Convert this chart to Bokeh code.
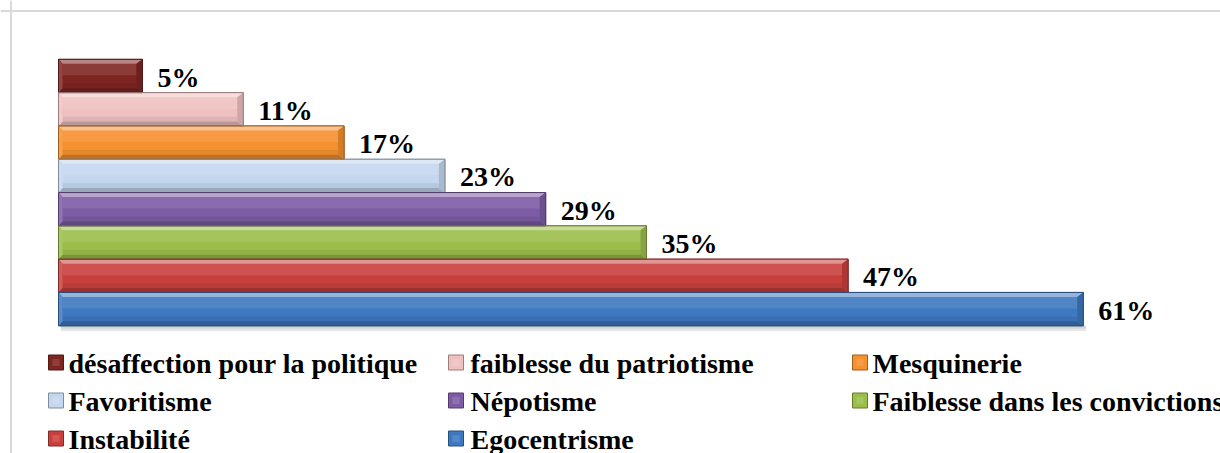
import numpy as np
from bokeh.plotting import figure
from bokeh.models import Range1d, Span, ColumnDataSource
from bokeh.core.properties import value
from bokeh.embed import file_html
from bokeh.resources import INLINE

# ---------------- data (top to bottom) ----------------
categories = [
    "désaffection pour la politique",
    "faiblesse du patriotisme",
    "Mesquinerie",
    "Favoritisme",
    "Népotisme",
    "Faiblesse dans les convictions",
    "Instabilité",
    "Egocentrisme",
]
values = [5, 11, 17, 23, 29, 35, 47, 61]
colors = ["#7E2522", "#EEC1C0", "#F5902F", "#C4D7EF",
          "#7D5CA5", "#9BBE4A", "#C8403D", "#3E78C0"]
labels = [f"{v}%" for v in values]

FONT = "Liberation Serif, Times New Roman, serif"

# ---------------- helpers ----------------
def hex2rgb(h):
    h = h.lstrip("#")
    return np.array([int(h[i:i + 2], 16) for i in (0, 2, 4)], dtype=float)

def rgb2hex(c):
    c = np.clip(np.round(c), 0, 255).astype(int)
    return "#%02x%02x%02x" % tuple(c)

def lighten(h, t):
    c = hex2rgb(h)
    return rgb2hex(c + (255 - c) * t)

def darken(h, t):
    return rgb2hex(hex2rgb(h) * (1 - t))

# ---------------- geometry / ranges ----------------
W, H = 1220, 453
px_per_pct = 16.8
zero_px = 58.0            # 0 % position from the frame's left edge
row_px = 33.3
bottom_center_px = 308.6  # centre of lowest bar from frame top

xs = -zero_px / px_per_pct
x_range = Range1d(xs, xs + W / px_per_pct)
y_range = Range1d(-(H - bottom_center_px) / row_px, bottom_center_px / row_px)

def sx(px):   # screen px -> x data
    return xs + px / px_per_pct

def sy(py):   # screen px (from top) -> y data
    return y_range.end - py / row_px

n = len(values)
ypos = [n - 1 - i for i in range(n)]
top = [y + 0.5 for y in ypos]
bot = [y - 0.5 for y in ypos]

p = figure(width=W, height=H, x_range=x_range, y_range=y_range,
           x_axis_type=None, y_axis_type=None,
           output_backend="svg", toolbar_location=None, min_border=0)
p.grid.visible = False
p.outline_line_color = None
p.background_fill_color = "white"
p.border_fill_color = "white"

# chart frame (light grey border at top and left)
p.add_layout(Span(location=sx(10.5), dimension="height",
                  line_color="#d9d9d9", line_width=2))
p.add_layout(Span(location=sy(10.5), dimension="width",
                  line_color="#d9d9d9", line_width=2))

# soft shadow under the lowest bar
p.quad(left=[0.15], right=[values[-1] + 0.15], bottom=[bot[-1] - 0.16],
       top=[bot[-1]], fill_color="#e6e6e6", line_color=None)
p.quad(left=[0.15], right=[values[-1] + 0.15], bottom=[bot[-1] - 0.09],
       top=[bot[-1]], fill_color="#d4d4d4", line_color=None)

# face of the bars
face_src = ColumnDataSource(dict(
    left=[0] * n, right=values, bottom=bot, top=top,
    fill=colors, line=[darken(c, 0.35) for c in colors], label=categories))
p.quad(left="left", right="right", bottom="bottom", top="top",
       fill_color="fill", line_color="line", line_width=1, source=face_src)

# bevel: inner gradient bands
d = 6 / px_per_pct     # right bevel width in x units
dl = 4 / px_per_pct    # left bevel width
b = 4.5 / row_px       # bevel height in y units

p.quad(left=[dl] * n, right=[v - d for v in values],
       bottom=[y + 0.02 for y in ypos], top=[t - b for t in top],
       fill_color=[lighten(c, 0.10) for c in colors], line_color=None)
p.quad(left=[dl] * n, right=[v - d for v in values],
       bottom=[bb + b for bb in bot], top=[y - 0.22 for y in ypos],
       fill_color=[darken(c, 0.07) for c in colors], line_color=None)

def poly(pts_fn):
    xs_, ys_ = [], []
    for v, t, bb in zip(values, top, bot):
        px, py = pts_fn(v, t, bb)
        xs_.append(px)
        ys_.append(py)
    return xs_, ys_

tx, ty = poly(lambda v, t, bb: ([0, v, v - d, dl], [t, t, t - b, t - b]))
p.patches(tx, ty, fill_color=[lighten(c, 0.45) for c in colors], line_color=None)
bx, by = poly(lambda v, t, bb: ([0, v, v - d, dl], [bb, bb, bb + b, bb + b]))
p.patches(bx, by, fill_color=[darken(c, 0.22) for c in colors], line_color=None)
rx, ry = poly(lambda v, t, bb: ([v, v, v - d, v - d], [t, bb, bb + b, t - b]))
p.patches(rx, ry, fill_color=[darken(c, 0.14) for c in colors], line_color=None)
lx, ly = poly(lambda v, t, bb: ([0, 0, dl, dl], [t, bb, bb + b, t - b]))
p.patches(lx, ly, fill_color=[lighten(c, 0.15) for c in colors], line_color=None)

p.quad(left=[0] * n, right=values, bottom=bot, top=top,
       fill_color=None, line_color=[darken(c, 0.35) for c in colors], line_width=1)

# value labels
p.text(x=values, y=ypos, text=labels, x_offset=15, y_offset=1,
       text_baseline="middle", text_align="left",
       text_font=value(FONT), text_font_style="bold",
       text_font_size="28px", text_color="black")

# ---------------- legend (3 columns, row-major) ----------------
col_marker_px = [55.5, 455.5, 859.5]   # marker centres
col_text_px = [68, 470, 872]
row_center_px = [362, 400, 438]
ncol = 3
lg_x = [sx(col_marker_px[i % ncol]) for i in range(n)]
lg_y = [sy(row_center_px[i // ncol]) for i in range(n)]
lt_x = [sx(col_text_px[i % ncol]) for i in range(n)]

p.scatter(x=lg_x, y=lg_y, marker="square", size=15,
          fill_color=colors, line_color=[darken(c, 0.35) for c in colors])
# small bevel highlight on legend squares
p.scatter(x=lg_x, y=lg_y, marker="square", size=7,
          fill_color=[lighten(c, 0.12) for c in colors], line_color=None)
p.text(x=lt_x, y=lg_y, text=categories, y_offset=1,
       text_baseline="middle", text_align="left",
       text_font=value(FONT), text_font_style="bold",
       text_font_size="28px", text_color="black")

open("out.html", "w").write(file_html(p, INLINE))
